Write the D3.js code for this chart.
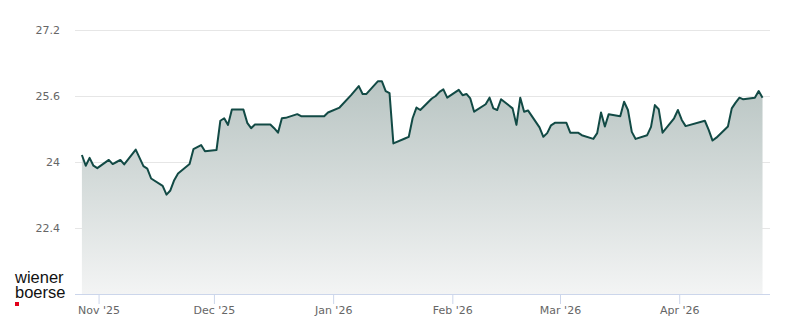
<html>
<head>
<meta charset="utf-8">
<script src='https://d3js.org/d3.v7.min.js'></script>
<style>
body {margin:0; background:white;}
.axis text {font-family:"DejaVu Sans", sans-serif; font-size:11px; fill:#666666;}
.logo {font-family:"Liberation Sans", Arial, sans-serif; font-size:16.5px; fill:#111;}
</style>
</head>
<body onload='init()'>
<svg width=800 height=324></svg>

<script>
// daily closing prices
var dates = ["2025-10-27","2025-10-28","2025-10-29","2025-10-30","2025-10-31",
  "2025-11-03","2025-11-04","2025-11-05","2025-11-06","2025-11-07",
  "2025-11-10","2025-11-11","2025-11-12","2025-11-13","2025-11-14",
  "2025-11-17","2025-11-18","2025-11-19","2025-11-20","2025-11-21",
  "2025-11-24","2025-11-25","2025-11-26","2025-11-27","2025-11-28",
  "2025-12-01","2025-12-02","2025-12-03","2025-12-04","2025-12-05",
  "2025-12-08","2025-12-09","2025-12-10","2025-12-11","2025-12-12",
  "2025-12-15","2025-12-16","2025-12-17","2025-12-18","2025-12-19",
  "2025-12-22","2025-12-23","2025-12-29","2025-12-30",
  "2026-01-02","2026-01-05","2026-01-06","2026-01-07","2026-01-08","2026-01-09",
  "2026-01-12","2026-01-13","2026-01-14","2026-01-15","2026-01-16",
  "2026-01-19","2026-01-20","2026-01-21","2026-01-22","2026-01-23",
  "2026-01-26","2026-01-27","2026-01-28","2026-01-29","2026-01-30",
  "2026-02-02","2026-02-03","2026-02-04","2026-02-05","2026-02-06",
  "2026-02-09","2026-02-10","2026-02-11","2026-02-12","2026-02-13",
  "2026-02-16","2026-02-17","2026-02-18","2026-02-19","2026-02-20",
  "2026-02-23","2026-02-24","2026-02-25","2026-02-26","2026-02-27",
  "2026-03-02","2026-03-03","2026-03-04","2026-03-05","2026-03-06",
  "2026-03-09","2026-03-10","2026-03-11","2026-03-12","2026-03-13",
  "2026-03-16","2026-03-17","2026-03-18","2026-03-19","2026-03-20",
  "2026-03-23","2026-03-24","2026-03-25","2026-03-26","2026-03-27",
  "2026-03-30","2026-03-31","2026-04-01","2026-04-02",
  "2026-04-07","2026-04-08","2026-04-09","2026-04-10",
  "2026-04-13","2026-04-14","2026-04-15","2026-04-16","2026-04-17",
  "2026-04-20","2026-04-21","2026-04-22"];

var prices = [24.17,23.91,24.10,23.91,23.85,
  24.05,23.95,24.00,24.05,23.94,
  24.30,24.10,23.90,23.84,23.60,
  23.42,23.21,23.31,23.56,23.72,
  23.95,24.31,24.36,24.41,24.26,
  24.29,25.00,25.06,24.90,25.27,
  25.27,24.95,24.82,24.91,24.91,
  24.91,24.82,24.71,25.06,25.07,
  25.16,25.11,25.11,25.20,
  25.32,25.62,25.73,25.84,25.65,25.65,
  25.96,25.96,25.72,25.67,24.45,
  24.57,24.61,25.06,25.32,25.26,
  25.54,25.60,25.70,25.76,25.56,
  25.75,25.62,25.65,25.54,25.22,
  25.40,25.56,25.30,25.26,25.52,
  25.30,24.90,25.56,25.22,25.25,
  24.84,24.61,24.70,24.89,24.95,
  24.95,24.71,24.71,24.71,24.65,
  24.56,24.70,25.20,24.86,25.16,
  25.11,25.46,25.26,24.73,24.56,
  24.65,24.85,25.38,25.28,24.71,
  25.06,25.26,25.02,24.87,
  25.00,24.78,24.52,24.59,
  24.86,25.30,25.44,25.56,25.52,
  25.56,25.72,25.56];

var yTicks = [22.4, 24, 25.6, 27.2];
var xTicks = ["2025-11-01","2025-12-01","2026-01-01","2026-02-01","2026-03-01","2026-04-01"];

function init() {
  var left = 75, right = 770, top = 30, bottom = 294;
  var parse = d3.timeParse("%Y-%m-%d");
  var parseT = d3.timeParse("%Y-%m-%d %H:%M");

  var data = dates.map(function(d, i) {
    return {date: parseT(d + " 16:00"), value: prices[i]};
  });

  var xScale = d3.scaleTime()
    .domain([parse("2025-10-26"), parse("2026-04-25")])
    .range([75.5, 771.5]);
  var yScale = d3.scaleLinear().domain([20.8, 27.2]).range([bottom, top]);

  var svg = d3.select("svg");

  var defs = svg.append("defs");
  var grad = defs.append("linearGradient")
    .attr("id", "fillGrad")
    .attr("x1", 0).attr("y1", 0).attr("x2", 0).attr("y2", 1);
  grad.append("stop").attr("offset", "0%").attr("stop-color", "#b9c5c3");
  grad.append("stop").attr("offset", "100%").attr("stop-color", "#f3f4f4");

  // y grid + labels
  var yAxis = d3.axisLeft(yScale)
    .tickValues(yTicks)
    .tickSize(-(right - left))
    .tickPadding(15)
    .tickFormat(function(d) { return d3.format("~g")(d); });
  var gy = svg.append("g")
    .attr("class", "axis")
    .attr("transform", "translate(" + left + ",0)")
    .call(yAxis);
  gy.select(".domain").remove();
  gy.selectAll("line").attr("stroke", "#e6e6e6");
  gy.selectAll("text").attr("dy", "0.35em");

  // area + line
  var area = d3.area()
    .x(function(d) { return xScale(d.date); })
    .y0(bottom)
    .y1(function(d) { return yScale(d.value); });
  var line = d3.line()
    .x(function(d) { return xScale(d.date); })
    .y(function(d) { return yScale(d.value); });

  svg.append("path").datum(data)
    .attr("d", area)
    .attr("fill", "url(#fillGrad)");
  svg.append("path").datum(data)
    .attr("d", line)
    .attr("fill", "none")
    .attr("stroke", "#124a45")
    .attr("stroke-width", 2)
    .attr("stroke-linejoin", "round");

  // x axis
  var xAxis = d3.axisBottom(xScale)
    .tickValues(xTicks.map(parse))
    .tickSize(10)
    .tickSizeOuter(0)
    .tickPadding(2)
    .tickFormat(d3.timeFormat("%b '%y"));
  var gx = svg.append("g")
    .attr("class", "axis")
    .attr("transform", "translate(0," + bottom + ")")
    .call(xAxis);
  gx.select(".domain")
    .attr("d", "M" + left + ",0.5H" + right)
    .attr("stroke", "#ccd6eb");
  gx.selectAll("line").attr("stroke", "#ccd6eb");

  // logo: one text, two lines
  var logo = svg.append("text").attr("class", "logo");
  logo.append("tspan").attr("x", 15).attr("y", 282.5).text("wiener");
  logo.append("tspan").attr("x", 15).attr("y", 298).text("boerse");
  svg.append("rect").attr("x", 15).attr("y", 302).attr("width", 4).attr("height", 4).attr("fill", "#e2001a");
}
</script>
</body>
</html>
